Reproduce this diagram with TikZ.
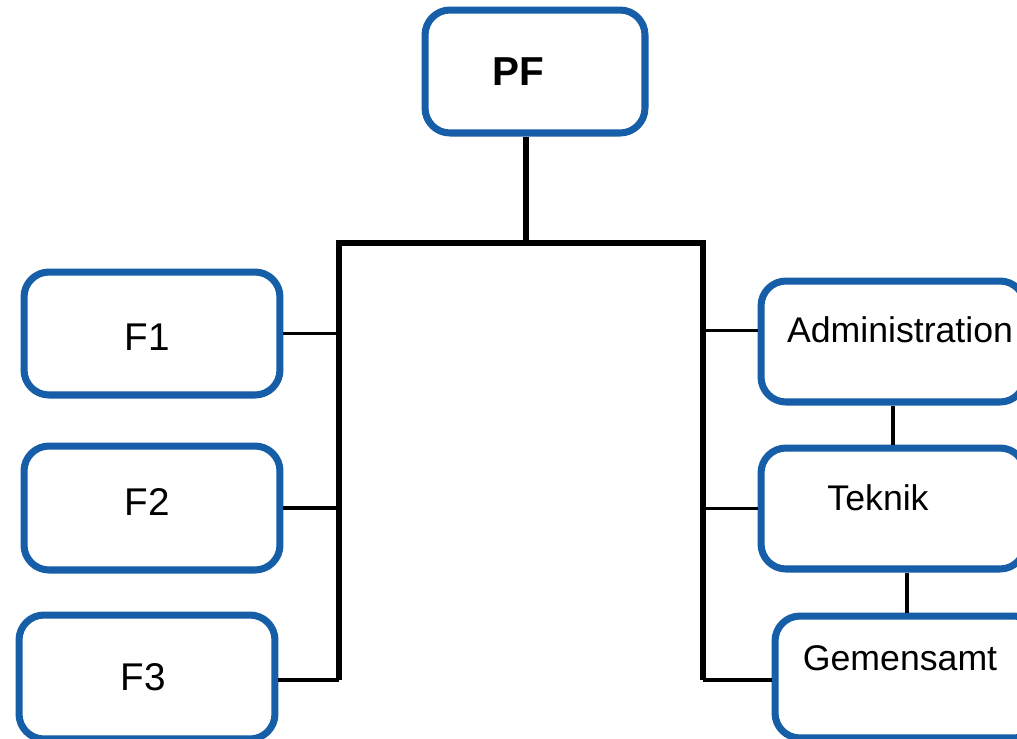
\documentclass[tikz,border=0pt]{standalone}
\usepackage{fontspec}
\setmainfont{Liberation Sans}
\usepackage{tikz}
\usetikzlibrary{positioning}
\definecolor{unitblue}{RGB}{22,94,168}

\begin{document}
\begin{tikzpicture}[x=0.02cm,y=-0.02cm,
		unit/.style={draw=unitblue, line width=4pt, rounded corners=0.5cm, fill=white},
		lbl/.style={font=\fontsize{20.3}{23}\selectfont, inner sep=0pt},
		trunk/.style={line width=3.4pt},
		twig/.style={line width=1.9pt}]
	
	\path[use as bounding box, clip] (0,0) rectangle (1017,738);
	
	% top
	\node[unit, minimum width=4.4cm, minimum height=2.46cm,
		label={[lbl, font=\fontsize{23}{27}\selectfont\bfseries, xshift=-0.34cm]center:PF}] (pf) at (535,71.5) {};
	
	% left column
	\node[unit, minimum width=5.12cm, minimum height=2.46cm,
		label={[lbl, font=\fontsize{22}{26}\selectfont, xshift=-0.1cm, yshift=-0.07cm]center:F1}] (f1) at (152,333.5) {};
	\node[unit, minimum width=5.12cm, minimum height=2.48cm,
		label={[lbl, font=\fontsize{22}{26}\selectfont, xshift=-0.1cm, yshift=0.12cm]center:F2}] (f2) at (152,508) {};
	\node[unit, minimum width=5.12cm, minimum height=2.48cm,
		label={[lbl, font=\fontsize{22}{26}\selectfont, xshift=-0.08cm]center:F3}] (f3) at (147,677) {};
	
	% right column
	\node[unit, minimum width=5.28cm, minimum height=2.42cm,
		label={[lbl, xshift=0.14cm, yshift=0.23cm]center:Administration}] (adm) at (893,341.5) {};
	\node[unit, minimum width=5.28cm, minimum height=2.42cm,
		label={[lbl, xshift=-0.3cm, yshift=0.21cm]center:Teknik}] (tek) at (893,508.5) {};
	\node[unit, minimum width=5.28cm, minimum height=2.44cm,
		label={[lbl, xshift=-0.14cm, yshift=0.38cm]center:Gemensamt}] (gem) at (907,677) {};
	
	% bars
	\coordinate (hm) at (526,243);
	\coordinate (hl) at (339,243);
	\coordinate (hr) at (703,243);
	\coordinate (bl) at (339,680);
	\coordinate (br) at (703,680);
	
	\draw[trunk] (hm |- pf.south) -- (hm);
	\draw[trunk] (bl) -- (hl) -- (hr) -- (br);
	
	% branches
	\draw[twig] (f1.east) -- (f1.east -| hl);
	\draw[twig] (f2.east) -- (f2.east -| hl);
	\draw[twig] (bl) -- (bl -| f3.east);
	\draw[twig] ([yshift=0.22cm]adm.west -| hr) -- ([yshift=0.22cm]adm.west);
	\draw[twig] (tek.west -| hr) -- (tek.west);
	\draw[twig] (br) -- (br -| gem.west);
	\draw[twig] (adm.south) -- (tek.north);
	\draw[twig] (tek.south -| gem.north) -- (gem.north);
\end{tikzpicture}
\end{document}
